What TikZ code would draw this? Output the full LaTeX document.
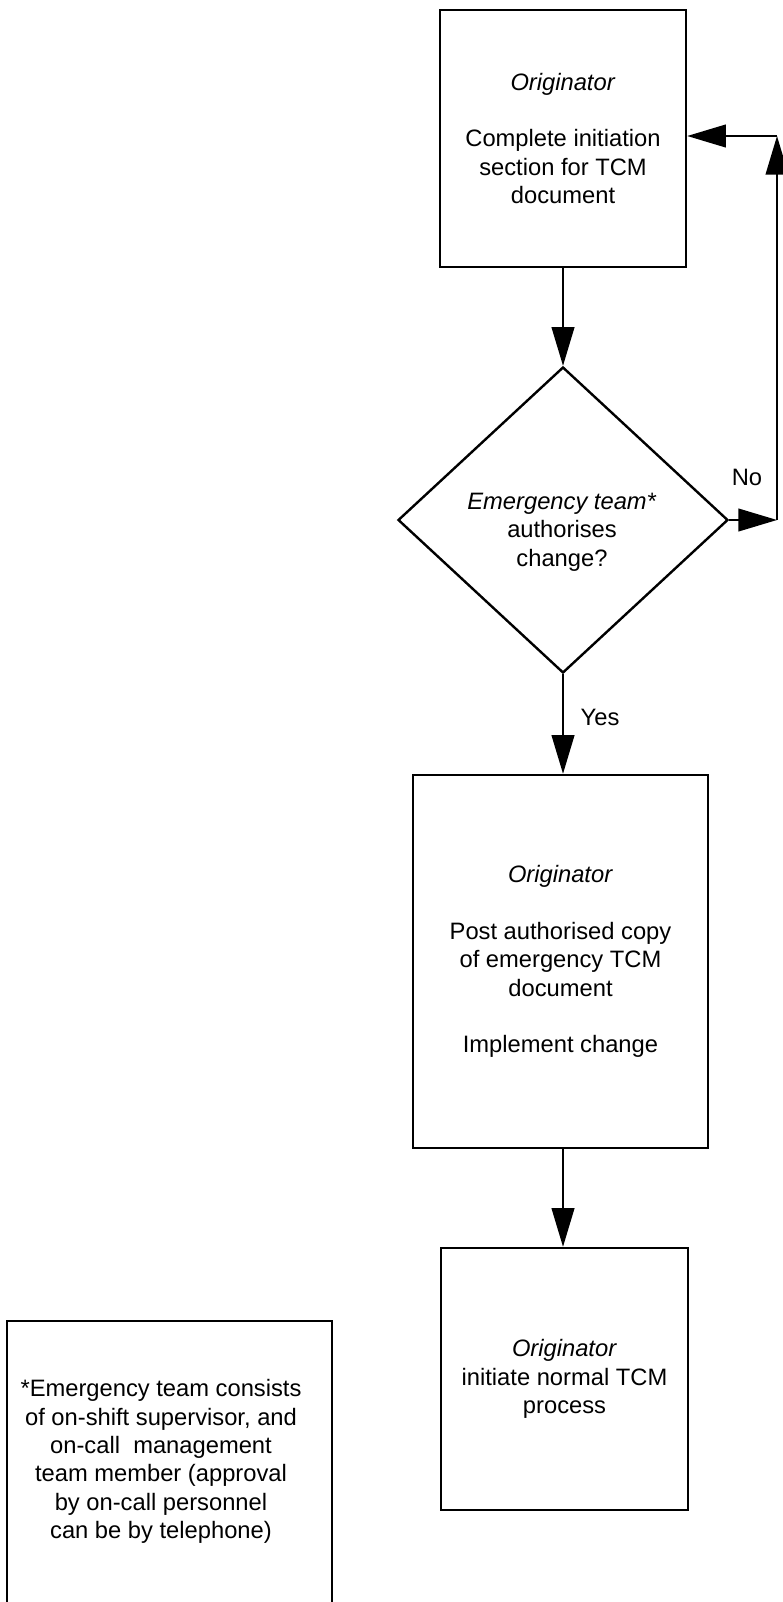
\documentclass[tikz,border=0pt]{standalone}
\usepackage{fontspec}
\setmainfont{Liberation Sans}
\usetikzlibrary{arrows.meta,shapes.geometric}

\tikzset{
  every node/.style={font=\fontsize{17.8pt}{21.3pt}\selectfont},
  stepbox/.style={draw, line width=1.8pt, rectangle, inner sep=0pt, align=center},
  decision/.style={draw, line width=1.8pt, diamond, inner sep=0pt},
  plain/.style={align=center, inner sep=0pt},
  flow/.style={line width=1.5pt, -{Triangle[length=29pt,width=17pt]}},
}

\begin{document}
\begin{tikzpicture}[x=0.75pt,y=-0.75pt]
\useasboundingbox (0,0) rectangle (782,1602);

% process boxes
\node[stepbox, minimum width=246*0.75pt, minimum height=257*0.75pt] (start) at (563,138.5)
  {\textit{Originator}\\[21.3pt]Complete initiation\\section for TCM\\document};

\node[decision, minimum width=330*0.75pt, minimum height=306*0.75pt] (decide) at (563,520) {};
\node[plain] (decidetext) at (562,532)
  {\textit{Emergency team*}\\authorises\\change?};

\node[stepbox, minimum width=295*0.75pt, minimum height=373*0.75pt] (post) at (560.5,961.5)
  {\textit{Originator}\\[21.3pt]Post authorised copy\\of emergency TCM\\document\\[21.3pt]Implement change};

\node[stepbox, minimum width=247*0.75pt, minimum height=262*0.75pt] (normal) at (564.5,1379)
  {\textit{Originator}\\initiate normal TCM\\process};

% footnote box (runs off the lower edge)
\node[stepbox, minimum width=325*0.75pt, minimum height=291*0.75pt] (note) at (169.5,1466.5) {};
\node[plain] (notetext) at (161,1461.5)
  {*Emergency team consists\\of on-shift supervisor, and\\on-call\ \ management\\team member (approval\\by on-call personnel\\can be by telephone)};

% connectors
\coordinate (noturn) at (777,520);
\coordinate (nocorner) at (777,136);

\draw[flow] (start.south -| decide.north) -- (decide.north);
\draw[flow] (decide.south) -- (decide.south |- post.north);
\draw[flow] (decide.south |- post.south) -- (decide.south |- normal.north);
\draw[flow] (decide.east) -- (noturn);
\draw[flow] (noturn) -- (nocorner);
\draw[flow] (nocorner) -- (nocorner -| start.east);

% branch labels
\node[plain] (nolabel) at (747,477) {No};
\node[plain] (yeslabel) at (600,717) {Yes};
\end{tikzpicture}
\end{document}
